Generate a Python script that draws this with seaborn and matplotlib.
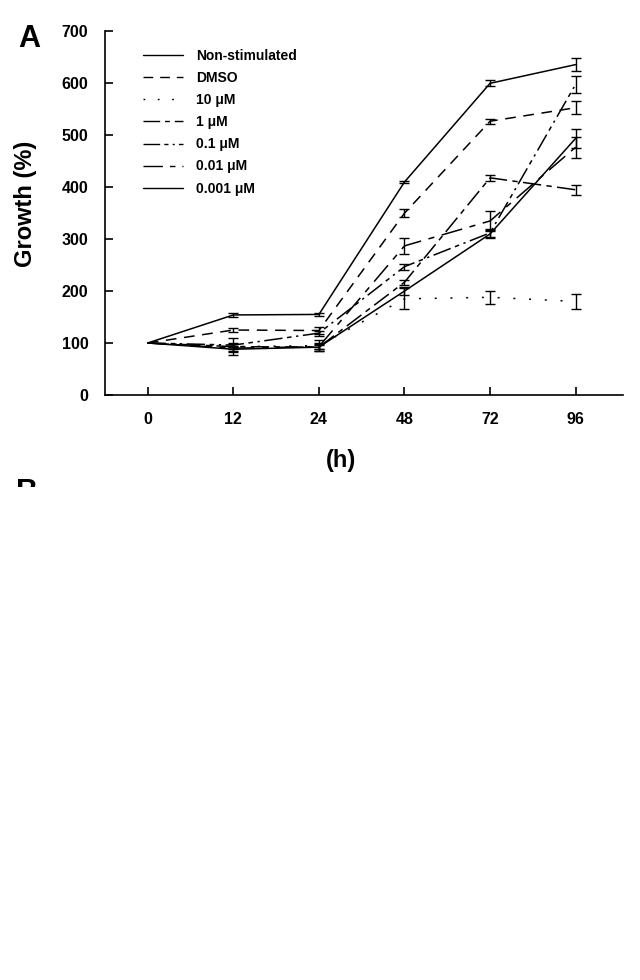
import numpy as np
import pandas as pd
import matplotlib
matplotlib.use('Agg')
import matplotlib.pyplot as plt
import seaborn as sns

# time points (categorical, equally spaced on the axis)
hours = ['0', '12', '24', '48', '72', '96']

# growth (%) mean and error per condition
non_stim = [100, 154, 155, 410, 600, 636]
non_stim_sd = [0, 3, 3, 2, 6, 12]
dmso = [100, 125, 124, 350, 527, 553]
dmso_sd = [0, 3, 6, 8, 5, 12]
um10 = [100, 93, 95, 185, 188, 180]
um10_sd = [0, 16, 10, 20, 12, 15]
um1 = [100, 93, 92, 217, 418, 395]
um1_sd = [0, 5, 4, 5, 6, 10]
um01 = [100, 96, 119, 247, 312, 598]
um01_sd = [0, 4, 5, 6, 8, 17]
um001 = [100, 90, 93, 287, 335, 477]
um001_sd = [0, 5, 5, 15, 20, 20]
um0001 = [100, 88, 92, 200, 310, 494]
um0001_sd = [0, 5, 8, 8, 8, 18]

labels = ['Non-stimulated', 'DMSO', '10 \u03bcM', '1 \u03bcM',
          '0.1 \u03bcM', '0.01 \u03bcM', '0.001 \u03bcM']
means = [non_stim, dmso, um10, um1, um01, um001, um0001]
sds = [non_stim_sd, dmso_sd, um10_sd, um1_sd, um01_sd, um001_sd, um0001_sd]

rows = []
for lab, m, s in zip(labels, means, sds):
    for i, h in enumerate(hours):
        rows.append({'pos': i, 'hour': h, 'growth': m[i], 'sd': s[i], 'cond': lab})
df = pd.DataFrame(rows)

sns.set_theme(style='ticks')
plt.rcParams['font.family'] = ['Liberation Sans', 'DejaVu Sans']
plt.rcParams['font.weight'] = 'bold'
for k in ['text.color', 'axes.labelcolor', 'xtick.color', 'ytick.color', 'axes.edgecolor']:
    plt.rcParams[k] = 'black'

dashes = {
    'Non-stimulated': '',
    'DMSO': (7, 5),
    '10 \u03bcM': (1.3, 9),
    '1 \u03bcM': (12, 3.5, 3.5, 3.5),
    '0.1 \u03bcM': (12, 3, 3, 3, 1.5, 3),
    '0.01 \u03bcM': (14, 5, 4, 5),
    '0.001 \u03bcM': '',
}

fig = plt.figure(figsize=(6.4, 9.8), dpi=100)
ax = fig.add_axes([0.164, 0.597, 0.809, 0.371])

sns.lineplot(data=df, x='pos', y='growth', style='cond', style_order=labels,
             dashes=dashes, color='black', linewidth=1.1, ax=ax,
             errorbar=None, legend=True)

# error bars with caps
for lab, m, s in zip(labels, means, sds):
    sub = df[df['cond'] == lab]
    ax.errorbar(sub['pos'][1:], sub['growth'][1:], yerr=sub['sd'][1:], fmt='none',
                ecolor='black', elinewidth=1.0, capsize=3.5, capthick=1.0)

ax.set_xlim(-0.5, 5.55)
ax.set_ylim(0, 700)
ax.set_xticks(range(len(hours)))
ax.set_xticklabels(hours)
ax.set_yticks(range(0, 701, 100))
ax.tick_params(direction='in', length=6, width=1.2, labelsize=11.5, pad=12, colors='black')
for t in ax.get_xticklabels() + ax.get_yticklabels():
    t.set_fontweight('bold')
sns.despine(ax=ax)
for sp in ['left', 'bottom']:
    ax.spines[sp].set_linewidth(1.2)
    ax.spines[sp].set_color('black')

ax.set_ylabel('Growth (%)', fontsize=17, fontweight='bold')
ax.yaxis.set_label_coords(-0.131, 0.525)
ax.set_xlabel('(h)', fontsize=17, fontweight='bold', labelpad=16)
ax.xaxis.label.set_x(0.456)

leg = ax.legend(loc='upper left', bbox_to_anchor=(0.073, 0.951), frameon=False,
                fontsize=10, handlelength=2.9, labelspacing=0.58, handletextpad=0.93,
                borderpad=0, borderaxespad=0)
for t in leg.get_texts():
    t.set_fontweight('bold')
for l in leg.get_lines():
    l.set_linewidth(1.0)

fig.text(0.028, 0.960, 'A', fontsize=22, fontweight='bold', va='center')
fig.text(0.025, 0.497, 'B', fontsize=22, fontweight='bold', va='center')
# the panel B is cut off just below its letter
fig.patches.append(plt.Rectangle((0, 0), 1, 0.503, transform=fig.transFigure,
                                 facecolor='white', edgecolor='none', zorder=10))

fig.savefig('out.png', dpi=100, facecolor='white')
